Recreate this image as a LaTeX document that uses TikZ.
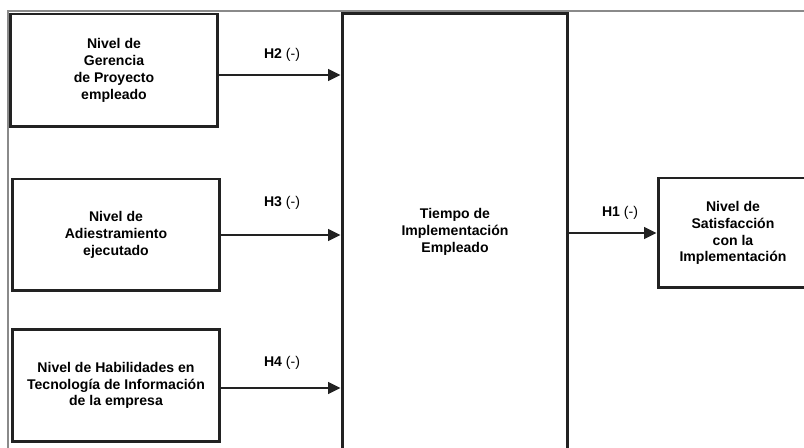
\documentclass[tikz,border=0pt]{standalone}
\usepackage{fontspec}
\setmainfont{Liberation Sans}
\usetikzlibrary{arrows.meta,positioning}
\definecolor{ink}{HTML}{222222}
\definecolor{frame}{HTML}{8A8A8A}
\tikzset{
  caja/.style={draw=ink,line width=1.7pt,align=center,inner sep=0pt,
    font=\fontsize{8}{9.6}\selectfont\bfseries},
  flecha/.style={draw=ink,line width=1.5pt,-{Triangle[length=7pt,width=6.5pt]}},
  hip/.style={font=\fontsize{8}{9.6}\selectfont,inner sep=0pt}
}
\begin{document}
\begin{tikzpicture}[x=0.02cm,y=-0.02cm]
  \useasboundingbox (0,0) rectangle (804,448);
  \clip (0,0) rectangle (804,448);
  \draw[frame,line width=0.6pt] (8,11) rectangle (900,520);
  % variables independientes
  \node[caja,minimum width=4.16cm,minimum height=2.26cm] (gerencia) at (114,70.5)
       {Nivel de\\Gerencia\\de Proyecto\\empleado};
  \node[caja,minimum width=4.16cm,minimum height=2.24cm] (adiestra) at (116,235)
       {Nivel de\\Adiestramiento\\ejecutado};
  \node[caja,minimum width=4.16cm,minimum height=2.26cm] (habil) at (116,385.5)
       {Nivel de Habilidades en\\Tecnolog\'ia de Informaci\'on\\de la empresa};
  % variable mediadora
  \node[caja,minimum width=4.52cm,minimum height=8.76cm] (tiempo) at (455,232)
       {Tiempo de\\Implementaci\'on\\Empleado};
  % variable dependiente
  \node[caja,minimum width=3.0cm,minimum height=2.2cm] (satisf) at (733,233)
       {Nivel de\\Satisfacci\'on\\con la\\Implementaci\'on};
  % hipotesis
  \draw[flecha] ([yshift=-4.5*0.02cm]gerencia.east) -- ([yshift=-4.5*0.02cm]gerencia.east -| tiempo.west);
  \draw[flecha] (adiestra.east) -- (adiestra.east -| tiempo.west);
  \draw[flecha] ([yshift=-2.5*0.02cm]habil.east) -- ([yshift=-2.5*0.02cm]habil.east -| tiempo.west);
  \draw[flecha] (tiempo.east |- satisf.west) -- (satisf.west);
  \node[hip] (h2) at (282,55) {\textbf{H2} (-)};
  \node[hip] (h3) at (282,203) {\textbf{H3} (-)};
  \node[hip] (h4) at (282,363) {\textbf{H4} (-)};
  \node[hip] (h1) at (620,213) {\textbf{H1} (-)};
\end{tikzpicture}
\end{document}
